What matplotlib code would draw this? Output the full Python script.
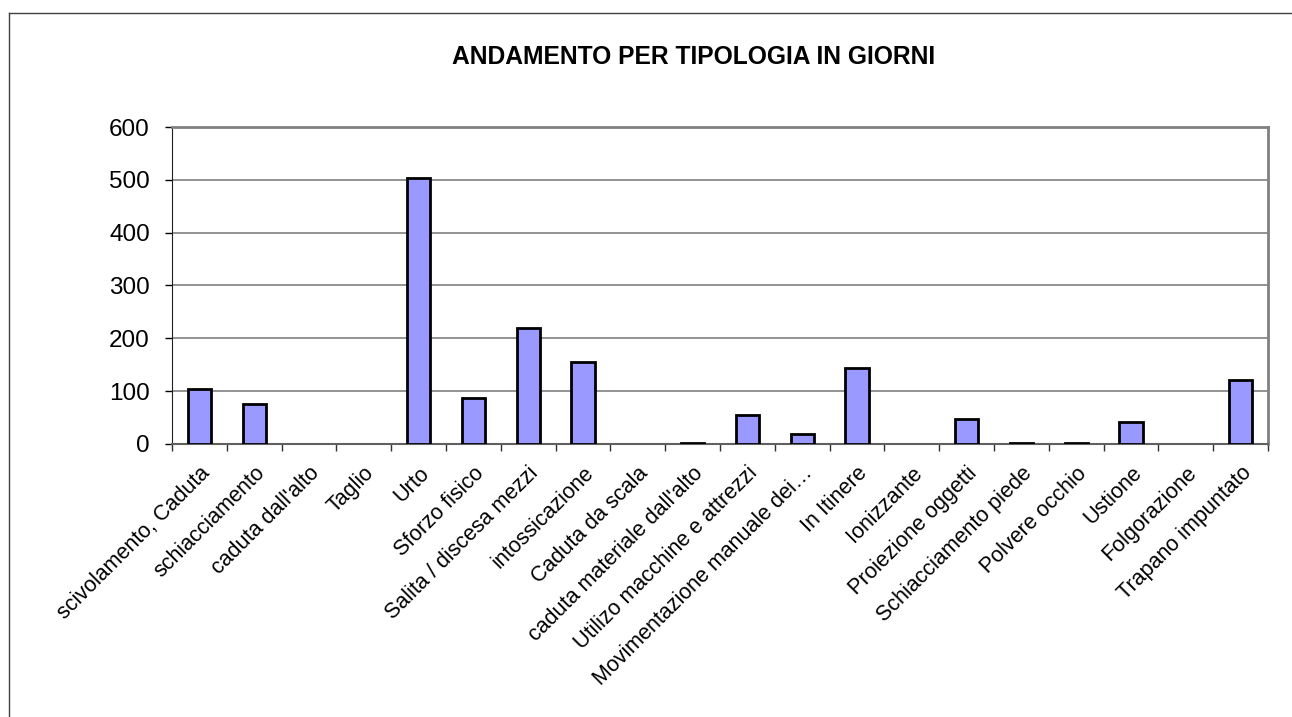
import matplotlib
matplotlib.use("Agg")
from matplotlib import pyplot as plt
from matplotlib.lines import Line2D

categorie = [
    "scivolamento, Caduta", "schiacciamento", "caduta dall'alto", "Taglio", "Urto",
    "Sforzo fisico", "Salita / discesa mezzi", "intossicazione", "Caduta da scala",
    "caduta materiale dall'alto", "Utilizo macchine e attrezzi",
    "Movimentazione manuale dei…", "In Itinere", "Ionizzante", "Proiezione oggetti",
    "Schiacciamento piede", "Polvere occhio", "Ustione", "Folgorazione", "Trapano impuntato",
]
giorni = [105, 76, 0, 0, 503, 88, 219, 155, 0, 2, 54, 18, 143, 0, 47, 2, 2, 41, 0, 122]
y_ticks = [0, 100, 200, 300, 400, 500, 600]

plt.rcParams['font.family'] = ['Liberation Sans', 'DejaVu Sans']

fig = plt.figure(figsize=(12.92, 7.17), dpi=100)
ax = fig.add_axes([172 / 1292, 1 - 444 / 717, (1268 - 172) / 1292, (444 - 127) / 717])

x = list(range(len(categorie)))
larghezze = [2 if v > 0 else 0 for v in giorni]
ax.bar(x, giorni, width=0.42, color="#9999FF", edgecolor="black",
       linewidth=larghezze, zorder=3)

ax.set_xlim(-0.5, len(categorie) - 0.5)
ax.set_ylim(0, 600)
ax.set_yticks(y_ticks)
ax.tick_params(axis="y", labelsize=17.5, length=5, width=1, direction="out", pad=11)
ax.yaxis.grid(True, color="#808080", linewidth=1.2, zorder=0)

ax.set_xticks(x)
ax.set_xticklabels(categorie, rotation=45, ha="right", va="top",
                   rotation_mode="anchor", fontsize=15.5)
ax.tick_params(axis="x", which="major", length=0, pad=13.5)
ax.set_xticks([i - 0.5 for i in range(len(categorie) + 1)], minor=True)
ax.tick_params(axis="x", which="minor", length=5, width=1, color="#303030")

ax.spines["left"].set_color("#202020")
ax.spines["bottom"].set_color("#606060")
ax.spines["bottom"].set_linewidth(1.5)
for lato in ["top", "right"]:
    ax.spines[lato].set_color("#808080")
    ax.spines[lato].set_linewidth(2)

fig.text(694 / 1292, 1 - 57 / 717, "ANDAMENTO PER TIPOLOGIA IN GIORNI",
         ha="center", va="center", fontsize=17.7, fontweight="bold")

# cornice esterna (solo lati sinistro e superiore visibili)
fig.add_artist(Line2D([9 / 1292, 9 / 1292], [0, 1 - 13 / 717],
                      transform=fig.transFigure, color="#404040", linewidth=1))
fig.add_artist(Line2D([9 / 1292, 1], [1 - 13 / 717, 1 - 13 / 717],
                      transform=fig.transFigure, color="#404040", linewidth=1))

fig.savefig("out.png", dpi=100)
